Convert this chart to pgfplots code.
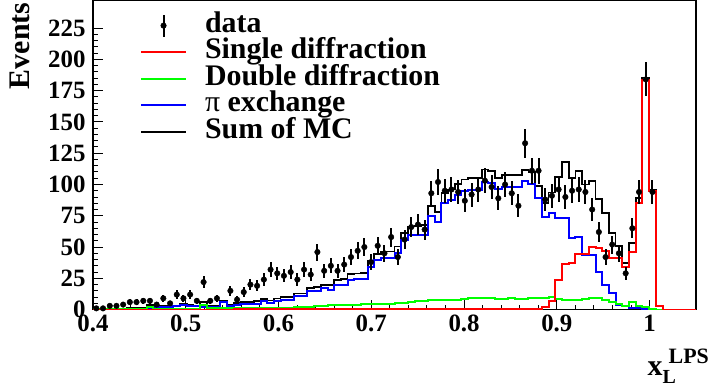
\documentclass[border=0pt]{standalone}
\usepackage{fontspec}
\setmainfont{Liberation Serif}
\usepackage{pgfplots}
\pgfplotsset{compat=1.18}
\usepackage{pgfplotstable}

% histogram bins: left edge, single diffraction, double diffraction, pi exchange, sum of MC
\pgfplotstableread{
x sd dd pi sum
0.4000 0 0.5 0.3 0.8
0.4072 0 0.5 0.3 0.8
0.4144 0 0.5 0.3 0.8
0.4217 0 0.5 0.3 0.8
0.4289 0 0.5 0.3 0.8
0.4361 0 0.5 0.8 1.3
0.4433 0 0.5 0.8 1.3
0.4506 0 0.5 0.8 1.3
0.4578 0 2 1.6 3.6
0.4650 0 0.8 2 2.8
0.4722 0 0.8 2 2.8
0.4794 0 0.8 2 2.8
0.4867 0 0.8 2.5 3.3
0.4939 0 0.8 3.5 4.3
0.5011 0 0.8 3 3.8
0.5083 0 0.8 2.5 3.3
0.5156 0 4 2 6
0.5228 0 1 2 3
0.5300 0 1 2 3
0.5372 0 1 6 7
0.5444 0 1 2.5 3.5
0.5517 0.3 1 4 5.3
0.5589 0.3 1 4.5 5.8
0.5661 0.3 1 4.8 6.1
0.5733 0.3 1.5 4.8 6.6
0.5806 0.3 1.5 6.5 8.3
0.5878 0.3 1.5 5.5 7.3
0.5950 0.3 1.5 7 8.8
0.6022 0.3 1.5 8 9.8
0.6094 0.3 1.5 8 9.8
0.6167 0.3 2 10.5 12.8
0.6239 0.3 2 10.5 12.8
0.6311 0.3 2 15 17.3
0.6383 0.3 2.5 15 17.8
0.6456 0.3 2.5 17 19.8
0.6528 0.3 3.5 16 19.8
0.6600 0.3 3.5 20 23.8
0.6672 0.3 4 20 24.3
0.6744 0.3 4 24 28.3
0.6817 0.3 4 24.5 28.8
0.6889 0.3 4.5 24.5 29.3
0.6961 0.5 4.5 34 39
0.7033 0.5 4.5 39.5 44.5
0.7106 0.5 4.5 41.5 46.5
0.7178 0.5 4.5 41.5 46.5
0.7250 0.5 5 45 50.5
0.7322 0.5 5 56 61.5
0.7394 0.5 6 60 66.5
0.7467 0.5 6.5 60 67
0.7539 0.5 7 60 67.5
0.7611 0.5 7.5 75 83
0.7683 0.5 7.5 70 78
0.7756 0.5 7.5 85 93
0.7828 0.5 7.5 88 96
0.7900 0.5 8 92 100.5
0.7972 0.5 8.5 95 104
0.8044 0.5 9.5 95.5 105.5
0.8117 0.5 9.5 95.5 105.5
0.8189 0.5 9.5 102 112
0.8261 0.5 9 101 110.5
0.8333 0.5 8.5 96.5 105.5
0.8406 0.8 8.5 98 107.3
0.8478 0.8 9 98 107.8
0.8550 0.8 8.5 98 107.3
0.8622 0.8 8.5 102.5 111.8
0.8694 0.8 9.3 100 110.1
0.8767 0.8 9 89 98.8
0.8839 1.8 9.5 74 85.3
0.8911 6.6 10 77 93.6
0.8983 24 8.5 73.5 106
0.9056 36.5 8 73.5 118
0.9128 37 8 57 105
0.9200 44.5 8 58 111
0.9272 44.5 8.5 44 100
0.9344 50 9 44 103
0.9417 49 9 30 88.5
0.9489 47 7.5 20 77
0.9561 41.5 6 13 61
0.9633 41 4.5 4 51
0.9706 34 2.7 2.5 37
0.9778 46 6 1.5 53.5
0.9850 85.5 3 1 89.5
0.9922 183.5 1.8 0.5 185.5
0.9994 95 0.5 0 95.5
1.0067 3 0 0 3
1.0139 0 0 0 0
1.0211 0 0 0 0
1.0283 0 0 0 0
1.0356 0 0 0 0
1.0428 0 0 0 0
1.0500 0 0 0 0
}\hist

% data: bin centre, events
\pgfplotstableread{
x n
0.4036 1
0.4108 1
0.4181 3
0.4253 3
0.4325 4
0.4397 6
0.4469 6
0.4542 7
0.4614 7
0.4686 4
0.4758 9
0.4831 5
0.4903 12
0.4975 9
0.5047 12
0.5119 7
0.5192 22
0.5264 7
0.5336 9
0.5481 15
0.5553 8
0.5625 14
0.5697 20
0.5769 19
0.5842 24
0.5914 32
0.5986 29
0.6058 27
0.6131 30
0.6203 24
0.6275 32
0.6347 28
0.6419 46
0.6492 31
0.6564 35
0.6636 31
0.6708 36
0.6781 42
0.6853 47
0.6925 50
0.6997 38
0.7069 51
0.7142 45
0.7214 58
0.7286 42
0.7358 56
0.7431 66
0.7503 68
0.7575 64
0.7647 93
0.7719 102
0.7792 95
0.7864 96
0.7936 94
0.8008 87
0.8081 92
0.8153 96
0.8225 103
0.8297 98
0.8369 89
0.8442 100
0.8514 93
0.8586 83
0.8658 133
0.8731 111
0.8803 111
0.8875 88
0.8947 91
0.9019 96
0.9092 90
0.9164 95
0.9236 96
0.9308 94
0.9381 80
0.9453 62
0.9525 42
0.9597 52
0.9669 45
0.9742 29
0.9814 65
0.9886 94
0.9958 184
1.0031 94
}\datatab

\definecolor{rootred}{RGB}{255,0,0}
\definecolor{rootgreen}{RGB}{0,255,0}
\definecolor{rootblue}{RGB}{0,0,255}

\begin{document}
\begin{tikzpicture}
\begin{axis}[
  name=ax,
  scale only axis, width=603bp, height=309bp,
  xmin=0.4, xmax=1.05, ymin=0, ymax=247,
  axis line style={line width=1.3bp},
  xtick={0.4,0.5,0.6,0.7,0.8,0.9,1},
  ytick={0,25,50,75,100,125,150,175,200,225},
  minor x tick num=4, minor y tick num=4,
  tick align=inside, tick pos=left,
  major tick length=10bp, minor tick length=5bp,
  every tick/.style={line width=1bp, black},
  /pgf/number format/assume math mode=true,
  ticklabel style={font=\fontsize{25}{25}\selectfont\bfseries},
  yticklabel style={xshift=-4bp},
  xticklabel style={yshift=-2bp},
  ylabel={Events},
  ylabel style={font=\fontsize{30}{30}\selectfont\bfseries, at={(axis description cs:-0.1376,0.994)}, anchor=north east, inner sep=0pt},
  xlabel={\textbf{x}\makebox[0pt][l]{\raisebox{-8bp}{\fontsize{20}{20}\selectfont\bfseries L}}\hspace{6bp}\raisebox{12bp}{\fontsize{22}{22}\selectfont\bfseries LPS}},
  xlabel style={font=\fontsize{30}{30}\selectfont\bfseries, at={(axis description cs:1.0216,-0.126)}, anchor=north east, inner sep=0pt},
  legend style={at={(axis description cs:0.078,0.962)}, anchor=north west, draw=none, fill=none, inner sep=0pt, outer sep=0pt,
    font=\fontsize{30}{30}\selectfont\bfseries, column sep=18bp, row sep=0bp,
    nodes={inner sep=0pt, text height=20bp, text depth=6.5bp}},
  legend cell align=left,
]
\addlegendimage{legend image code/.code={\draw[black,line width=2bp] (22.5bp,-11bp) -- (22.5bp,11bp); \fill[black] (22.5bp,0bp) circle (2.8bp);}}
\addlegendentry{data}
\addlegendimage{legend image code/.code={\draw[rootred,line width=2bp] (0bp,0bp) -- (45bp,0bp);}}
\addlegendentry{Single diffraction}
\addlegendimage{legend image code/.code={\draw[rootgreen,line width=2bp] (0bp,0bp) -- (45bp,0bp);}}
\addlegendentry{Double diffraction}
\addlegendimage{legend image code/.code={\draw[rootblue,line width=2bp] (0bp,0bp) -- (45bp,0bp);}}
\addlegendentry{{\mdseries π} exchange}
\addlegendimage{legend image code/.code={\draw[black,line width=2bp] (0bp,0bp) -- (45bp,0bp);}}
\addlegendentry{Sum of MC}

\addplot[forget plot, const plot mark left, black, line width=1.8bp] table[x=x, y=sum] {\hist};
\addplot[forget plot, const plot mark left, rootblue, line width=2bp] table[x=x, y=pi] {\hist};
\addplot[forget plot, const plot mark left, rootgreen, line width=2bp] table[x=x, y=dd] {\hist};
\addplot[forget plot, const plot mark left, rootred, line width=2bp] table[x=x, y=sd] {\hist};
\addplot[forget plot, black, only marks, mark=*, mark size=2.8bp,
  error bars/.cd, y dir=both, y explicit, error mark=none,
  error bar style={line width=2bp, black}]
  table[x=x, y=n, y error expr={sqrt(\thisrow{n})}] {\datatab};
\end{axis}
\pgfresetboundingbox
\path[use as bounding box] ([xshift=-93bp,yshift=-78bp]ax.south west) rectangle ([xshift=13bp,yshift=0.6bp]ax.north east);
\end{tikzpicture}
\end{document}
